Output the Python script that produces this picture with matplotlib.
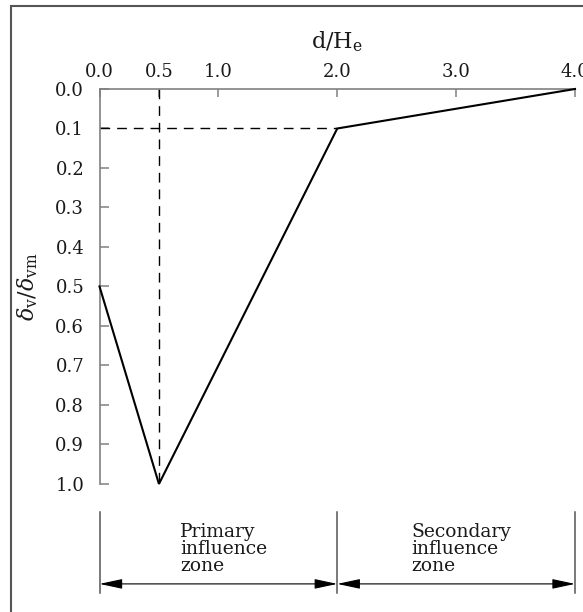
import matplotlib
matplotlib.use("Agg")
import matplotlib.pyplot as plt
from matplotlib.patches import Rectangle

# ---- data ----
profile_x = [0.0, 0.5, 2.0, 4.0]
profile_y = [0.5, 1.0, 0.1, 0.0]
vdash_x = [0.5, 0.5]
vdash_y = [0.0, 1.0]
hdash_x = [0.0, 2.0]
hdash_y = [0.1, 0.1]
x_ticks = [0.0, 0.5, 1.0, 2.0, 3.0, 4.0]
x_ticklabels = ["0.0", "0.5", "1.0", "2.0", "3.0", "4.0"]
y_ticks = [0.0, 0.1, 0.2, 0.3, 0.4, 0.5, 0.6, 0.7, 0.8, 0.9, 1.0]
y_ticklabels = ["0.0", "0.1", "0.2", "0.3", "0.4", "0.5", "0.6", "0.7", "0.8", "0.9", "1.0"]
zone_bounds = [0.0, 2.0, 4.0]
zone_labels = ["Primary\ninfluence\nzone", "Secondary\ninfluence\nzone"]
zone_text_x = [0.68, 2.62]

plt.rcParams['font.family'] = ['DejaVu Serif']
plt.rcParams['mathtext.fontset'] = 'dejavuserif'

fig = plt.figure(figsize=(5.83, 6.12), dpi=100)
ax = fig.add_axes([0.1707, 0.2092, 0.8156, 0.6454])

spine_col = '#808080'
txt_col = '#1a1a1a'
ax.plot(profile_x, profile_y, color='black', lw=1.5, solid_joinstyle='miter', clip_on=False, zorder=3)
ax.plot(vdash_x, vdash_y, color='black', lw=1.0, dashes=(7, 5), clip_on=False)
ax.plot(hdash_x, hdash_y, color='black', lw=1.0, dashes=(7, 5), clip_on=False)

ax.set_xlim(0, 4)
ax.set_ylim(1.0, 0.0)

for s in ['right', 'bottom']:
    ax.spines[s].set_visible(False)
for s in ['top', 'left']:
    ax.spines[s].set_color(spine_col)
    ax.spines[s].set_linewidth(1.2)

ax.xaxis.tick_top()
ax.xaxis.set_label_position('top')
ax.set_xticks(x_ticks)
ax.set_xticklabels(x_ticklabels)
ax.set_yticks(y_ticks)
ax.set_yticklabels(y_ticklabels)
ax.tick_params(axis='x', direction='in', length=6, width=1.1, color=spine_col,
               pad=6, labelsize=13, labelcolor=txt_col)
ax.tick_params(axis='y', direction='in', length=6.5, width=1.1, color=spine_col,
               pad=11, labelsize=13, labelcolor=txt_col)

ax.set_xlabel(r'$\mathrm{d/H_e}$', fontsize=16, labelpad=10, color=txt_col)
ax.set_ylabel(r'$\delta_{\mathrm{v}}/\delta_{\mathrm{vm}}$', fontsize=16, labelpad=11, color=txt_col)

# zone annotations below the axes
trans = ax.get_xaxis_transform()
for xb in zone_bounds:
    ax.plot([xb, xb], [-0.071, -0.276], transform=trans, color='#555555', lw=1.1, clip_on=False)
for i in range(len(zone_bounds) - 1):
    ax.annotate('', xy=(zone_bounds[i], -0.253), xytext=(zone_bounds[i + 1], -0.253),
                xycoords=trans, textcoords=trans,
                arrowprops=dict(arrowstyle='<|-|>,head_length=1.4,head_width=0.3',
                                color='black', lw=0.8, shrinkA=0, shrinkB=0))
for tx, lab in zip(zone_text_x, zone_labels):
    ax.text(tx, -0.1, lab, transform=trans, ha='left', va='top', fontsize=13.5,
            linespacing=0.92, color=txt_col)

# figure frame
fig.patches.append(Rectangle((11 / 583, -0.05), 1.1, 1 - 5.7 / 612 + 0.05,
                             transform=fig.transFigure, fill=False,
                             edgecolor='#555555', lw=1.5, clip_on=False))

fig.savefig('out.png', dpi=100)
